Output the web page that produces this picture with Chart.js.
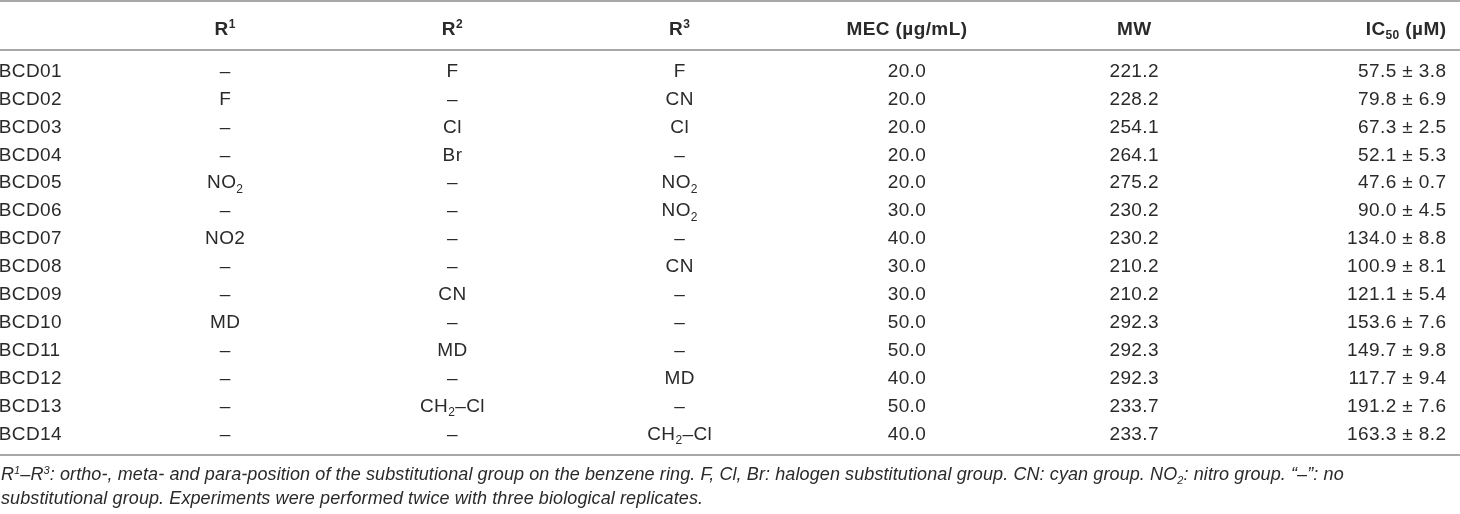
<!DOCTYPE html>
<html>
<head>
<meta charset="utf-8">
<script src="https://cdn.jsdelivr.net/npm/chart.js@4.4.1/dist/chart.umd.min.js"></script>
<style>
  html, body { margin: 0; padding: 0; background: #fff; }
  #wrap { width: 1460px; height: 514px; }
</style>
</head>
<body>
<div id="wrap"><canvas id="table" width="1460" height="514"></canvas></div>
<script>
'use strict';
// table values (markup: _2 = subscript, ^1 = superscript)

var headers = ['', 'R^1', 'R^2', 'R^3', 'MEC (µg/mL)', 'MW', 'IC_50 (µM)'];
var compounds = ['BCD01', 'BCD02', 'BCD03', 'BCD04', 'BCD05', 'BCD06', 'BCD07',
  'BCD08', 'BCD09', 'BCD10', 'BCD11', 'BCD12', 'BCD13', 'BCD14'];
var r1 = ['–', 'F', '–', '–', 'NO_2', '–', 'NO2', '–', '–', 'MD', '–', '–', '–', '–'];
var r2 = ['F', '–', 'Cl', 'Br', '–', '–', '–', '–', 'CN', '–', 'MD', '–', 'CH_2–Cl', '–'];
var r3 = ['F', 'CN', 'Cl', '–', 'NO_2', 'NO_2', '–', 'CN', '–', '–', '–', 'MD', '–', 'CH_2–Cl'];
var mec = [20.0, 20.0, 20.0, 20.0, 20.0, 30.0, 40.0, 30.0, 30.0, 50.0, 50.0, 40.0, 50.0, 40.0];
var mw = [221.2, 228.2, 254.1, 264.1, 275.2, 230.2, 230.2, 210.2, 210.2, 292.3, 292.3, 292.3, 233.7, 233.7];
var ic50 = [57.5, 79.8, 67.3, 52.1, 47.6, 90.0, 134.0, 100.9, 121.1, 153.6, 149.7, 117.7, 191.2, 163.3];
var ic50sd = [3.8, 6.9, 2.5, 5.3, 0.7, 4.5, 8.8, 8.1, 5.4, 7.6, 9.8, 9.4, 7.6, 8.2];
var footnote = [
  'R^1–R^3: ortho-, meta- and para-position of the substitutional group on the benzene ring. F, Cl, Br: halogen substitutional group. CN: cyan group. NO_2: nitro group. “–”: no',
  'substitutional group. Experiments were performed twice with three biological replicates.'
];

var columns = [
  compounds,
  r1,
  r2,
  r3,
  mec.map(function (v) { return v.toFixed(1); }),
  mw.map(function (v) { return v.toFixed(1); }),
  ic50.map(function (v, i) { return v.toFixed(1) + ' ± ' + ic50sd[i].toFixed(1); })
];

var FONT = '"Liberation Sans", Arial, sans-serif';
var INK = '#2a2a2a';
var RULE = '#a8a8a8';

// split "NO_2" into pieces with a shift
function pieces(text) {
  var out = [];
  var re = /([_^])(\d+)/g;
  var last = 0, m;
  while ((m = re.exec(text)) !== null) {
    if (m.index > last) out.push({ t: text.slice(last, m.index), s: 0 });
    out.push({ t: m[2], s: m[1] === '_' ? 1 : -1 });
    last = re.lastIndex;
  }
  if (last < text.length) out.push({ t: text.slice(last), s: 0 });
  return out;
}

function drawRich(ctx, text, x, y, align, style, size, spacing) {
  var parts = pieces(text);
  var small = Math.round(size * 0.62);
  var total = 0;
  ctx.letterSpacing = (spacing || 0) + 'px';
  parts.forEach(function (p) {
    ctx.font = style + ' ' + (p.s ? small : size) + 'px ' + FONT;
    p.w = ctx.measureText(p.t).width;
    total += p.w;
  });
  total -= spacing || 0;
  var start = x;
  if (align === 'center') start = x - total / 2;
  if (align === 'right') start = x - total;
  var base = y + size * 0.36;
  ctx.textAlign = 'left';
  ctx.textBaseline = 'alphabetic';
  parts.forEach(function (p) {
    ctx.font = style + ' ' + (p.s ? small : size) + 'px ' + FONT;
    var dy = p.s === 1 ? size * 0.22 : (p.s === -1 ? -size * 0.36 : 0);
    ctx.fillText(p.t, start, base + dy);
    start += p.w;
  });
  ctx.letterSpacing = '0px';
}

var tablePlugin = {
  id: 'tableText',
  afterDatasetsDraw: function (chart) {
    var ctx = chart.ctx;
    var xs = chart.scales.x, ys = chart.scales.y;
    var area = chart.chartArea;
    ctx.save();
    ctx.fillStyle = INK;

    function align(c) { return c === 0 ? 'left' : (c === 6 ? 'right' : 'center'); }
    function colX(c, px) { return c === 6 ? area.right - 14 : (c === 0 ? px + 1 : px); }

    // cells
    chart.data.datasets.forEach(function (ds, c) {
      var meta = chart.getDatasetMeta(c);
      meta.data.forEach(function (pt, i) {
        drawRich(ctx, columns[c][i], colX(c, pt.x), pt.y, align(c), 'normal', 19, 0.4);
      });
    });

    // header row
    var hy = ys.getPixelForValue(-1.5);
    headers.forEach(function (h, c) {
      drawRich(ctx, h, colX(c, xs.getPixelForValue(c)), hy, align(c), 'bold', 19, 0.4);
    });

    // rules
    ctx.strokeStyle = RULE;
    ctx.lineWidth = 2;
    [-2.49, -0.72, 13.8].forEach(function (v) {
      var y = Math.round(ys.getPixelForValue(v));
      ctx.beginPath();
      ctx.moveTo(area.left, y);
      ctx.lineTo(area.right, y);
      ctx.stroke();
    });

    // footnote
    footnote.forEach(function (line, k) {
      drawRich(ctx, line, area.left + 1, ys.getPixelForValue(14.48 + k * 0.83), 'left', 'italic', 18, 0.1);
    });
    ctx.restore();
  }
};

var datasets = columns.map(function (col, c) {
  return {
    label: headers[c],
    data: col.map(function (_, i) { return { x: c, y: i }; }),
    pointRadius: 0,
    pointHoverRadius: 0,
    showLine: false
  };
});

var chart = new Chart(document.getElementById('table'), {
  type: 'scatter',
  data: { datasets: datasets },
  options: {
    responsive: false,
    animation: false,
    events: [],
    layout: { padding: 0 },
    plugins: { legend: { display: false }, tooltip: { enabled: false } },
    scales: {
      x: { type: 'linear', display: false, min: 0.0099, max: 6.4345 },
      y: { type: 'linear', display: false, reverse: true, min: -2.509, max: 15.914 }
    }
  },
  plugins: [tablePlugin]
});
</script>
</body>
</html>
